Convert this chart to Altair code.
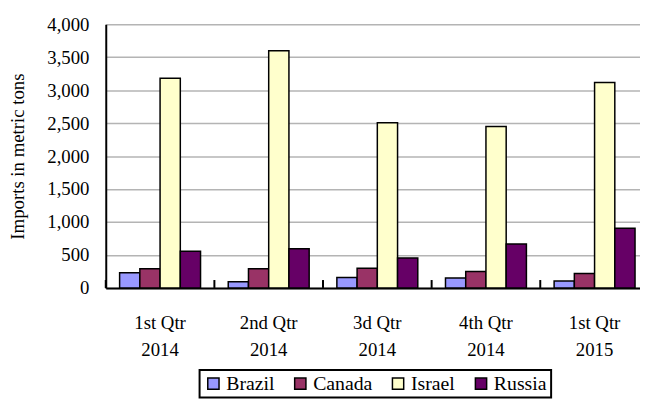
import altair as alt
import pandas as pd

quarters = ["1st Qtr\n2014", "2nd Qtr\n2014", "3d Qtr\n2014", "4th Qtr\n2014", "1st Qtr\n2015"]
countries = ["Brazil", "Canada", "Israel", "Russia"]
colors = ["#9999FF", "#993366", "#FFFFCC", "#660066"]

brazil = [230, 95, 160, 150, 105]
canada = [290, 290, 300, 250, 220]
israel = [3180, 3600, 2505, 2450, 3115]
russia = [555, 595, 455, 665, 905]

y_ticks = [0, 500, 1000, 1500, 2000, 2500, 3000, 3500, 4000]

rows = []
for c, vals in zip(countries, [brazil, canada, israel, russia]):
    for q, v in zip(quarters, vals):
        rows.append({"quarter": q, "country": c, "value": v})
df = pd.DataFrame(rows)
qdf = pd.DataFrame({"quarter": quarters})

FONT = "Liberation Serif"
W, H = 541, 267
RANGE = 550
P_INNER = 0.255
STEP = RANGE / len(quarters)
TICK_LEN = 8

xscale = alt.Scale(range=[0, RANGE], paddingInner=P_INNER, paddingOuter=P_INNER / 2)
yscale = alt.Scale(domain=[0, 4000], nice=False)

x_axis = alt.Axis(title=None, labelAngle=0, ticks=False, domainColor="black", domainWidth=2,
                  labelFont=FONT, labelFontSize=19, labelColor="black", labelPadding=26,
                  labelLineHeight=27, labelBaseline="top",
                  labelExpr="split(datum.label, '\\n')")

y_axis = alt.Axis(values=y_ticks, labelExpr="format(datum.value, ',')", ticks=False,
                  domainColor="black", domainWidth=2, labelOverlap=False,
                  grid=True, gridColor="#b4b4b4", gridWidth=1.5,
                  labelFont=FONT, labelFontSize=19, labelColor="black", labelPadding=17,
                  title="Imports in metric tons", titleFont=FONT, titleFontSize=19,
                  titleFontWeight="normal", titleColor="black",
                  titleX=-89, titleY=H / 2, titleBaseline="middle", titleAngle=270)

bars = alt.Chart(df).mark_bar(stroke="black", strokeWidth=1.5).encode(
    x=alt.X("quarter:N", sort=quarters, scale=xscale, axis=x_axis),
    xOffset=alt.XOffset("country:N", sort=countries, scale=alt.Scale(paddingInner=0, paddingOuter=0)),
    y=alt.Y("value:Q", scale=yscale, axis=y_axis),
    color=alt.Color("country:N", sort=countries, scale=alt.Scale(domain=countries, range=colors),
                    legend=alt.Legend(title=None, orient="none", legendX=95, legendY=350,
                                      direction="horizontal", columns=4, strokeColor="black",
                                      padding=4, symbolType="square", symbolSize=130,
                                      symbolStrokeColor="black", symbolStrokeWidth=1.5,
                                      labelFont=FONT, labelFontSize=20, labelColor="black",
                                      columnPadding=16, labelOffset=3, fillColor="white")),
)

# inward category tick marks at the boundaries between quarter groups
ticks = alt.Chart(qdf).mark_rule(color="black", strokeWidth=2, xOffset=-STEP * P_INNER / 2).encode(
    x=alt.X("quarter:N", sort=quarters, bandPosition=0, scale=xscale, axis=x_axis),
    y=alt.value(H),
    y2=alt.value(H - TICK_LEN),
)

chart = alt.layer(bars, ticks).properties(
    width=W, height=H,
    autosize=alt.AutoSizeParams(type="none"),
    padding={"left": 99, "top": 14, "right": 0, "bottom": 110},
).configure_view(stroke=None).configure_legend(strokeWidth=2, labelFont=FONT)

chart.save("out.html", embed_options={"renderer": "svg", "actions": False})
